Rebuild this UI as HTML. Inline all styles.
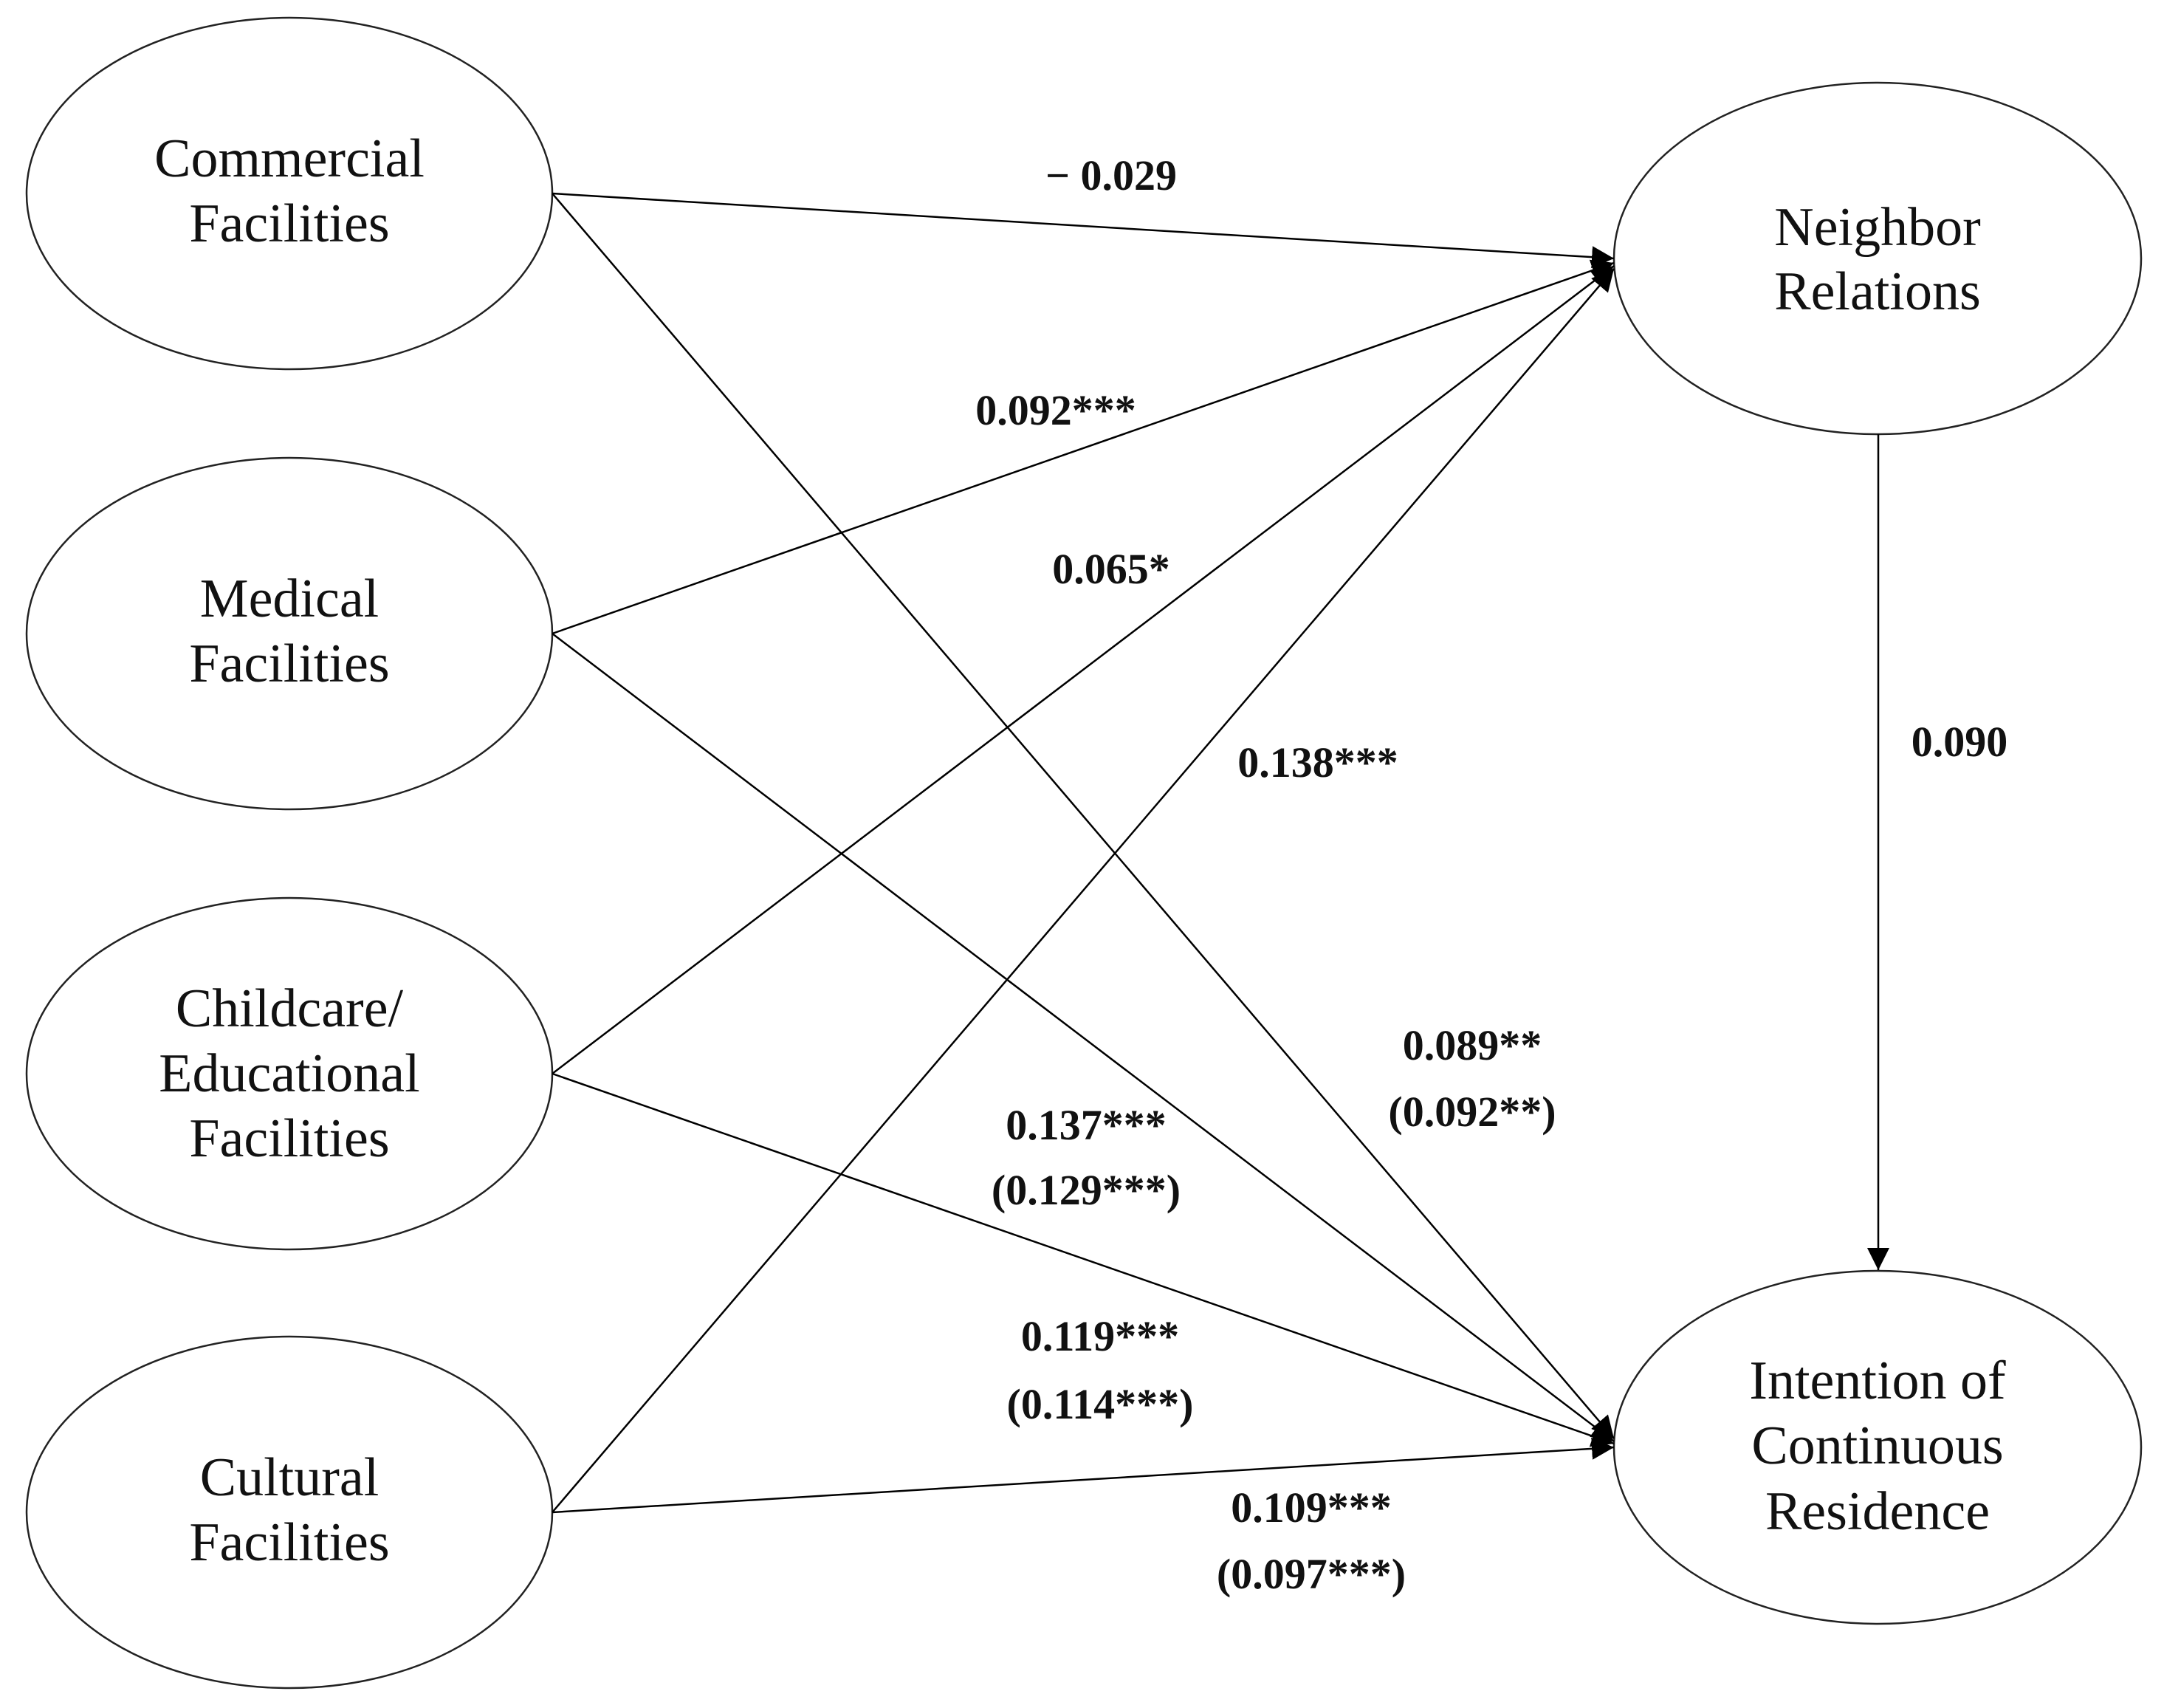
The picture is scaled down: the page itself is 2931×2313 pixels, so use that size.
<!DOCTYPE html>
<html><head><meta charset="utf-8"><style>
html,body{margin:0;padding:0;background:#fff;}
svg{display:block;}
.n{font-family:"Liberation Serif",serif;font-size:74px;text-anchor:middle;fill:#111;}
.l{font-family:"Liberation Serif",serif;font-size:58px;font-weight:bold;text-anchor:middle;fill:#111;}
</style></head><body>
<svg width="2931" height="2313" viewBox="0 0 2931 2313" xmlns="http://www.w3.org/2000/svg">
<defs>
<marker id="a" markerWidth="12" markerHeight="10" refX="11" refY="5" orient="auto" markerUnits="userSpaceOnUse" viewBox="0 0 12 10">
</marker>
<marker id="ah" viewBox="0 0 10 10" refX="10" refY="5" markerWidth="30" markerHeight="30" markerUnits="userSpaceOnUse" orient="auto">
<path d="M0,0 L10,5 L0,10 z" fill="#000"/>
</marker>
</defs>
<g fill="none" stroke="#222" stroke-width="2.5">
<ellipse cx="392" cy="262" rx="356" ry="238"/>
<ellipse cx="392" cy="858" rx="356" ry="238"/>
<ellipse cx="392" cy="1454" rx="356" ry="238"/>
<ellipse cx="392" cy="2048" rx="356" ry="238"/>
<ellipse cx="2543" cy="350" rx="357" ry="238"/>
<ellipse cx="2543" cy="1960" rx="357" ry="239"/>
</g>
<g stroke="#000" stroke-width="2.5" fill="none" marker-end="url(#ah)">
<line x1="748" y1="262" x2="2186" y2="350"/>
<line x1="748" y1="858" x2="2186" y2="356"/>
<line x1="748" y1="1454" x2="2186" y2="360"/>
<line x1="748" y1="2048" x2="2186" y2="364"/>
<line x1="748" y1="262" x2="2186" y2="1948"/>
<line x1="748" y1="858" x2="2186" y2="1952"/>
<line x1="748" y1="1454" x2="2186" y2="1955"/>
<line x1="748" y1="2048" x2="2186" y2="1960"/>
<line x1="2544" y1="588" x2="2544" y2="1720"/>
</g>
<g class="n">
<text x="392" y="239" class="n">Commercial</text>
<text x="392" y="327" class="n">Facilities</text>
<text x="392" y="835" class="n">Medical</text>
<text x="392" y="923" class="n">Facilities</text>
<text x="392" y="1390" class="n">Childcare/</text>
<text x="392" y="1478" class="n">Educational</text>
<text x="392" y="1566" class="n">Facilities</text>
<text x="392" y="2025" class="n">Cultural</text>
<text x="392" y="2113" class="n">Facilities</text>
<text x="2543" y="332" class="n">Neighbor</text>
<text x="2543" y="419" class="n">Relations</text>
<text x="2543" y="1894" class="n">Intention of</text>
<text x="2543" y="1982" class="n">Continuous</text>
<text x="2543" y="2071" class="n">Residence</text>
</g>
<g>
<text x="1505" y="257" class="l">− 0.029</text>
<text x="1430" y="575" class="l">0.092***</text>
<text x="1505" y="790" class="l">0.065*</text>
<text x="1785" y="1052" class="l">0.138***</text>
<text x="2654" y="1024" class="l">0.090</text>
<text x="1994" y="1435" class="l">0.089**</text>
<text x="1994" y="1525" class="l">(0.092**)</text>
<text x="1471" y="1543" class="l">0.137***</text>
<text x="1471" y="1631" class="l">(0.129***)</text>
<text x="1490" y="1829" class="l">0.119***</text>
<text x="1490" y="1921" class="l">(0.114***)</text>
<text x="1776" y="2061" class="l">0.109***</text>
<text x="1776" y="2151" class="l">(0.097***)</text>
</g>
</svg>
</body></html>
